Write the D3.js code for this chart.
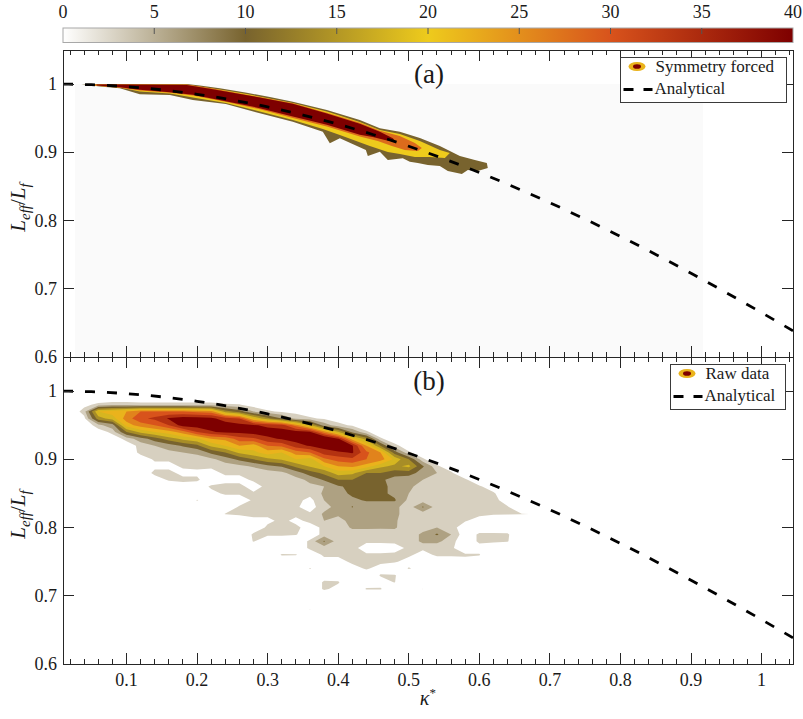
<!DOCTYPE html>
<html>
<head>
<meta charset="utf-8">
<title>Effective length ratio versus curvature</title>
<script src="https://cdn.jsdelivr.net/npm/d3@7/dist/d3.min.js"></script>
<style>
  html, body { margin: 0; padding: 0; background: #ffffff; }
  svg { display: block; }
  text { font-family: "Liberation Serif", "Times New Roman", serif; fill: #1a1a1a; }
</style>
</head>
<body>
<svg id="chart" width="803" height="719"></svg>
<script>
// ---------------- data ----------------
const colorbarTicks = [0, 5, 10, 15, 20, 25, 30, 35, 40];
const colormapStops = [0, 10, 20, 30, 40];
const colormapColors = ["#ffffff", "#78632e", "#eecb1c", "#d8531c", "#7e0000"];

const xTicks = [0.1, 0.2, 0.3, 0.4, 0.5, 0.6, 0.7, 0.8, 0.9, 1];
const yTicks = [0.6, 0.7, 0.8, 0.9, 1];

// analytical prediction of Leff/Lf against kappa*
const analyticKappa = [0.01, 0.05, 0.1, 0.15, 0.2, 0.25, 0.3, 0.35, 0.4, 0.45, 0.5, 0.55,
                       0.6, 0.65, 0.7, 0.75, 0.8, 0.85, 0.9, 0.95, 1.0, 1.0445];
const analyticRatio = [1.000, 0.9991, 0.9963, 0.9916, 0.9851, 0.9767, 0.9666, 0.9547, 0.9411, 0.9258, 0.9089, 0.8904,
                       0.8704, 0.8489, 0.8261, 0.8020, 0.7767, 0.7503, 0.7228, 0.6943, 0.6650, 0.6383];

// symmetry-forced histogram: extent of its grid and filled contour outlines [kappa*, Leff/Lf]
const symGridKappa = [0.027, 0.917];
const symGridRatio = [0.6, 1.0];
const symLevels = [10, 20, 28, 40];
const symContour10 = [[0.036,1.0],[0.0905,1.0],[0.1854,1.0],[0.2039,0.998],[0.2322,0.9938],[0.2705,0.9874],[0.3031,0.9811],
  [0.3357,0.9742],[0.3839,0.962],[0.4306,0.9474],[0.459,0.9352],[0.4873,0.9302],[0.5157,0.921],[0.544,0.9093],[0.5724,0.8946],
  [0.5936,0.8887],[0.6106,0.8843],[0.612,0.877],[0.5978,0.8726],[0.5837,0.8741],[0.5752,0.8682],[0.5553,0.8726],[0.544,0.88],
  [0.527,0.8814],[0.5128,0.8843],[0.5015,0.8862],[0.4915,0.8912],[0.4703,0.8887],[0.459,0.9009],[0.442,0.8946],[0.4392,0.9034],
  [0.4023,0.9206],[0.3881,0.9132],[0.3782,0.9302],[0.3357,0.9449],[0.2889,0.9572],[0.2407,0.9708],[0.194,0.9767],[0.1614,0.984],
  [0.1188,0.985],[0.0905,0.9938],[0.0622,0.9965]];
const symContour20 = [[0.0452,0.9994],[0.1854,0.999],[0.2322,0.9921],[0.2705,0.9855],[0.3357,0.9723],[0.3839,0.9598],[0.4306,0.9444],
  [0.459,0.9327],[0.4873,0.9269],[0.5157,0.9166],[0.544,0.9034],[0.5582,0.899],[0.5511,0.8917],[0.5298,0.8931],[0.5086,0.8931],
  [0.4873,0.8975],[0.4703,0.9005],[0.4448,0.9093],[0.4023,0.9254],[0.3782,0.9342],[0.3357,0.9474],[0.2889,0.9598],[0.2407,0.9723],
  [0.194,0.9804],[0.1614,0.9862],[0.1188,0.9892],[0.0905,0.995],[0.0622,0.9972],[0.0452,0.9987]];
const symContour28 = [[0.0522,0.9994],[0.1854,0.9994],[0.2223,0.9936],[0.2889,0.981],[0.3357,0.9718],[0.3839,0.958],[0.4306,0.9432],
  [0.459,0.9315],[0.4873,0.9239],[0.5086,0.9137],[0.5185,0.9063],[0.5128,0.902],[0.4944,0.9034],[0.476,0.9093],[0.4561,0.9166],
  [0.4306,0.9232],[0.3839,0.938],[0.3357,0.9505],[0.2889,0.963],[0.2421,0.9736],[0.194,0.9832],[0.1614,0.9872],[0.1188,0.9908],
  [0.0905,0.9946],[0.0551,0.9979]];
const symContour40 = [[0.0575,0.9993],[0.0905,0.9994],[0.1854,0.9987],[0.2223,0.9924],[0.2889,0.9805],[0.3357,0.9712],[0.3839,0.9568],
  [0.4306,0.942],[0.459,0.9302],[0.4774,0.9206],[0.4817,0.9151],[0.466,0.9181],[0.449,0.9225],[0.4306,0.9258],[0.3839,0.9405],
  [0.3357,0.9525],[0.2889,0.9648],[0.2421,0.9745],[0.194,0.9845],[0.1614,0.988],[0.1188,0.9918],[0.0905,0.9955],[0.0579,0.9978]];

// raw data: 2-D histogram counts on (kappa*, Leff/Lf) bins
const rawKappaBins = [0.02,0.04,0.06,0.08,0.10,0.12,0.14,0.16,0.18,0.20,0.22,0.24,0.26,0.28,0.30,0.32,0.34,
                      0.36,0.38,0.40,0.42,0.44,0.46,0.48,0.50,0.52,0.54,0.56,0.58,0.60,0.62,0.64,0.66];
const rawRatioBins = [1.00,0.99,0.98,0.97,0.96,0.95,0.94,0.93,0.92,0.91,0.90,0.89,0.88,0.87,0.86,0.85,0.84,0.83,
                      0.82,0.81,0.80,0.79,0.78,0.77,0.76,0.75,0.74,0.73,0.72,0.71,0.70,0.69,0.68,0.67,0.66];
const rawLevels = [3, 6, 10, 14, 18, 22, 26, 30, 34, 38];
const rawCounts = [
  [0,0,0,0,0,0,0,0,0,0,0,0,0,0,0,0,0,0,0,0,0,0,0,0,0,0,0,0,0,0,0,0,0],
  [0,0,0,0,0,1,1,1,1,1,1,0,0,0,0,0,0,0,0,0,0,0,0,0,0,0,0,0,0,0,0,0,0],
  [0,2,4,5,5,4,4,4,4,4,4,3.5,3.2,1.5,1,0.5,0,0,0,0,0,0,0,0,0,0,0,0,0,0,0,0,0],
  [0,4.5,22,24,26,30,30,30,30,29,28,16,12,6,3.5,2.5,2,1,0.5,0,0,0,0,0,0,0,0,0,0,0,0,0,0],
  [0,2,16,20,28,33,35,38.5,40,40,39,36,34,22,15,10,5,3.5,2.5,1.5,0.5,0,0,0,0,0,0,0,0,0,0,0,0],
  [0,0,5,8,24,28,30,34,40,40,40,40,39,38.5,37,36,28,19,8,4,2.5,1,0,0,0,0,0,0,0,0,0,0,0],
  [0,0,1,4,14,19,22,24,28,34,37.5,39,39,40,40,40,40,38.5,28,18.5,9,3.5,1,0,0,0,0,0,0,0,0,0,0],
  [0,0,0,1,4,8,12,16,19,21,26,27,32,33,37,38.5,40,40,44,38.5,24,16,3.5,1,0,0,0,0,0,0,0,0,0],
  [0,0,0,0,1,4,6,8,10.5,13,19,22,26,24,30,31,36,38.5,40,44,38.5,26,14,4,1,0,0,0,0,0,0,0,0],
  [0,0,0,0,0,4,4,5,6,7,11,14,19,21,24,22,28,30,36,37,38.5,31,26,12,3.5,1,0,0,0,0,0,0,0],
  [0,0,0,0,0,1,3.5,3.5,4,4,5,8,11,14,17,18.5,22,20,29,32,33,30,28,21,14,3.5,0.5,0,0,0,0,0,0],
  [0,0,0,0,0,0,2,2,3.5,3.5,3.5,4,5,6.5,9,10.5,15,18.5,22,26,27,24,19,17,19,10.5,3.5,1,0,0,0,0,0],
  [0,0,0,0,0,0,4,4,2,2.5,2,3.5,3.5,3.5,4,5,8,12,15,20,19,14,14,12,12,8,6,3.5,0,0,0,0,0],
  [0,0,0,0,0,0,1,3.5,4,3.5,1,2,2,3.5,3.5,4,4.5,7,10.5,14,14,11,11,8,7,6,5,5,3.5,0.5,0,0,0],
  [0,0,0,0,0,0,0,0,1,1,3.5,4,4,1.5,4,3.5,3.5,5,6,9.5,11,12,11,9,6.5,5,4.5,4,4,3.5,1,0,0],
  [0,0,0,0,0,0,0,0,0,0,2,3.5,3.5,3.5,4,4,3.5,4,6.5,8,11,12,11,9,6,4.5,4,3.5,3.5,4,3.5,0,0],
  [0,0,0,0,0,0,0,0,0,3.2,1,1,1,3.5,3.5,3.5,4,2,6,7,9,10.5,10.5,10.5,5,4,3.5,3.5,3.5,3.5,4,1.5,0],
  [0,0,0,0,0,0,0,0,0,0,0,0,3.5,4,4,4,3.5,1.5,5,7,10.2,7,7,7,4,10.5,4,3.5,3.5,3.5,3.5,3.3,0],
  [0,0,0,0,0,0,0,0,0,0,0,3.2,3.5,4,3.5,3.5,3.5,3.5,6.5,6.5,7,7,7,6.5,5,4,3.5,3.5,3.5,3.5,3.3,3.2,3.1],
  [0,0,0,0,0,0,0,0,0,0,0,0,1,2,2.5,3.5,2.5,3.5,6,5,7,7,6.5,6.5,4,3.5,3.5,3.5,3.2,2,1,1,0],
  [0,0,0,0,0,0,0,0,0,0,0,0,0,1,3.5,4,3.5,2,3.5,4,6.5,6.5,6.5,6.5,3.5,4,6,4,1.5,1,1,1,0],
  [0,0,0,0,0,0,0,0,0,0,0,0,0,3.5,3.5,3.5,3.2,1,4,3.5,4,4,3.5,4,3.5,7,10.5,6,1,3.5,3.5,3.4,0],
  [0,0,0,0,0,0,0,0,0,0,0,0,0,3.2,1,1,1,3.5,10.5,4,3.5,3.5,3.5,3.5,3.5,7,7,4,1,3.5,3.5,3.2,0],
  [0,0,0,0,0,0,0,0,0,0,0,0,0,0,0,1,1,3.5,4,3.5,4,1.5,1.5,2,3.5,3.5,3.5,3.5,1,2,1,1,0],
  [0,0,0,0,0,0,0,0,0,0,0,0,0,0,0,3.3,3.2,1,3.5,3.5,3.5,3.5,3.5,3.5,3.5,2,3.5,3.5,3.4,3.2,0,0,0],
  [0,0,0,0,0,0,0,0,0,0,0,0,0,0,0,0,0,0,2,2,3.5,3.5,3.5,3.3,2,1,1,1,2,1,0,0,0],
  [0,0,0,0,0,0,0,0,0,0,0,0,0,0,0,0,0,3.2,1,1,2,3.3,2,1,3.2,2,0,0,0,0,0,0,0],
  [0,0,0,0,0,0,0,0,0,0,0,0,0,0,0,0,0,0,1,1,1,1,3.2,3.2,1,1,0,0,0,0,0,0,0],
  [0,0,0,0,0,0,0,0,0,0,0,0,0,0,0,0,0,0,3.5,3.3,0,1,2,3.1,0,1,0,0,0,0,0,0,0],
  [0,0,0,0,0,0,0,0,0,0,0,0,0,0,0,0,0,0,3.5,2,0,3.3,3.2,1,0,3.1,0,0,0,0,0,0,0],
  [0,0,0,0,0,0,0,0,0,0,0,0,0,0,0,0,0,0,0,0,0,0,0,0,0,0,0,0,0,0,0,0,0],
  [0,0,0,0,0,0,0,0,0,0,0,0,0,0,0,0,0,0,0,0,0,0,0,0,0,0,0,0,0,0,0,0,0],
  [0,0,0,0,0,0,0,0,0,0,0,0,0,0,0,0,0,3.1,0,0,0,0,0,0,0,0,0,0,0,0,0,0,0],
  [0,0,0,0,0,0,0,0,0,0,0,0,0,0,0,0,0,0,0,0,0,0,0,0,0,0,0,0,0,0,0,0,0],
  [0,0,0,0,0,0,0,0,0,0,0,0,0,0,0,0,0,0,0,0,0,0,0,0,0,0,0,0,0,0,0,0,0]
];

// ---------------- layout ----------------
const svg = d3.select("#chart");
const plotLeft = 63, plotRight = 793;
const panels = [
  { key: "a", top: 50, bottom: 357 },
  { key: "b", top: 357, bottom: 664 }
];
const ratioDomain = [0.6, 1.05];
const x = d3.scaleLinear().domain([0.01, 1.0445]).range([plotLeft, plotRight]);
panels.forEach(p => { p.y = d3.scaleLinear().domain(ratioDomain).range([p.bottom, p.top]); });
const cmap = d3.scaleLinear().domain(colormapStops).range(colormapColors).interpolate(d3.interpolateRgb);
const axisColor = "#262626";
const defs = svg.append("defs");

panels.forEach(p => {
  defs.append("clipPath").attr("id", "clip-" + p.key)
    .append("rect").attr("x", plotLeft).attr("y", p.top)
    .attr("width", plotRight - plotLeft).attr("height", p.bottom - p.top);
});

// ---------------- colour bar ----------------
const cbScale = d3.scaleLinear().domain([0, 40]).range([plotLeft, plotRight]);
const grad = defs.append("linearGradient").attr("id", "cbar-grad")
  .attr("x1", "0%").attr("x2", "100%").attr("y1", "0%").attr("y2", "0%");
colormapStops.forEach((v, i) => {
  grad.append("stop").attr("offset", (v / 40 * 100) + "%").attr("stop-color", colormapColors[i]);
});
const cbTop = 28, cbHeight = 14.5;
svg.append("rect").attr("x", cbScale(0)).attr("y", cbTop)
  .attr("width", cbScale(40) - cbScale(0)).attr("height", cbHeight)
  .attr("fill", "url(#cbar-grad)").attr("stroke", "#a8a8a8").attr("stroke-width", 1);
colorbarTicks.forEach(v => {
  if (v > 0 && v < 40) {
    svg.append("line").attr("x1", cbScale(v)).attr("x2", cbScale(v))
      .attr("y1", cbTop).attr("y2", cbTop + 6).attr("stroke", "#555").attr("stroke-width", 1);
  }
  svg.append("text").attr("x", cbScale(v)).attr("y", 18).attr("text-anchor", "middle")
    .attr("font-size", 18).text(v);
});

// ---------------- panel (a): symmetry forced ----------------
const pa = panels[0];
const gA = svg.append("g").attr("clip-path", "url(#clip-a)");
gA.append("rect")
  .attr("x", x(symGridKappa[0])).attr("y", pa.y(symGridRatio[1]))
  .attr("width", x(symGridKappa[1]) - x(symGridKappa[0]))
  .attr("height", pa.y(symGridRatio[0]) - pa.y(symGridRatio[1]))
  .attr("fill", "#fafafa");
const symShapes = [symContour10, symContour20, symContour28, symContour40];
const polyLineA = d3.line().x(d => x(d[0])).y(d => pa.y(d[1])).curve(d3.curveLinearClosed);
symShapes.forEach((pts, i) => {
  gA.append("path").attr("d", polyLineA(pts)).attr("fill", cmap(symLevels[i]));
});

// ---------------- panel (b): raw data ----------------
const pb = panels[1];
const gB = svg.append("g").attr("clip-path", "url(#clip-b)");
const nK = rawKappaBins.length, nR = rawRatioBins.length;
const dK = rawKappaBins[1] - rawKappaBins[0];
const dR = rawRatioBins[1] - rawRatioBins[0];
const gridToKappa = g => rawKappaBins[0] + (g - 0.5) * dK;
const gridToRatio = g => rawRatioBins[0] + (g - 0.5) * dR;
const rawContours = d3.contours().size([nK, nR]).thresholds(rawLevels)(rawCounts.flat());
const topLevel = rawLevels[rawLevels.length - 1];
rawContours.forEach(c => {
  const d = c.coordinates.map(poly => poly.map(ring =>
    "M" + ring.map(pt => x(gridToKappa(pt[0])).toFixed(2) + "," + pb.y(gridToRatio(pt[1])).toFixed(2)).join("L") + "Z"
  ).join("")).join("");
  if (!d) return;
  gB.append("path").attr("d", d).attr("fill-rule", "evenodd")
    .attr("fill", cmap(c.value >= topLevel ? 40 : c.value));
});

// ---------------- analytical curve (both panels) ----------------
const analyticPts = analyticKappa.map((k, i) => [k, analyticRatio[i]]);
[[gA, pa], [gB, pb]].forEach(([g, p]) => {
  const line = d3.line().x(d => x(d[0])).y(d => p.y(d[1])).curve(d3.curveMonotoneX);
  g.append("path").attr("d", line(analyticPts)).attr("fill", "none")
    .attr("stroke", "#000").attr("stroke-width", 2.8).attr("stroke-dasharray", "10 12");
});

// ---------------- axes, frames, tick labels ----------------
const minorX = d3.range(0.02, 1.045, 0.02).filter(v => !xTicks.some(t => Math.abs(t - v) < 1e-6));
const majorLen = 11, minorLen = 5;
panels.forEach(p => {
  const g = svg.append("g").attr("stroke", axisColor).attr("stroke-width", 1).attr("shape-rendering", "crispEdges");
  xTicks.forEach(v => {
    g.append("line").attr("x1", x(v)).attr("x2", x(v)).attr("y1", p.bottom).attr("y2", p.bottom - majorLen);
    g.append("line").attr("x1", x(v)).attr("x2", x(v)).attr("y1", p.top).attr("y2", p.top + majorLen);
  });
  minorX.forEach(v => {
    g.append("line").attr("x1", x(v)).attr("x2", x(v)).attr("y1", p.bottom).attr("y2", p.bottom - minorLen);
    g.append("line").attr("x1", x(v)).attr("x2", x(v)).attr("y1", p.top).attr("y2", p.top + minorLen);
  });
  yTicks.forEach(v => {
    g.append("line").attr("x1", plotLeft).attr("x2", plotLeft + majorLen).attr("y1", p.y(v)).attr("y2", p.y(v));
    g.append("line").attr("x1", plotRight).attr("x2", plotRight - majorLen).attr("y1", p.y(v)).attr("y2", p.y(v));
  });
  g.append("rect").attr("x", plotLeft).attr("y", p.top)
    .attr("width", plotRight - plotLeft).attr("height", p.bottom - p.top).attr("fill", "none");

  yTicks.forEach(v => {
    svg.append("text").attr("x", plotLeft - 6).attr("y", p.y(v)).attr("dy", "0.34em")
      .attr("text-anchor", "end").attr("font-size", 18).text(String(v));
  });

  // rotated axis title
  const yl = svg.append("text").attr("font-size", 21).attr("text-anchor", "middle")
    .attr("transform", `translate(25,${(p.top + p.bottom) / 2 + 4}) rotate(-90)`);
  yl.append("tspan").attr("font-style", "italic").text("L");
  yl.append("tspan").attr("font-style", "italic").attr("font-size", 15).attr("dy", 5).text("eff");
  yl.append("tspan").attr("dy", -5).text("/");
  yl.append("tspan").attr("font-style", "italic").text("L");
  yl.append("tspan").attr("font-style", "italic").attr("font-size", 15).attr("dy", 5).text("f");
});

// x tick labels under the lower panel
xTicks.forEach(v => {
  svg.append("text").attr("x", x(v)).attr("y", 686).attr("text-anchor", "middle")
    .attr("font-size", 18).text(String(v));
});
const xl = svg.append("text").attr("x", x(0.527)).attr("y", 705).attr("text-anchor", "middle").attr("font-size", 20);
xl.append("tspan").attr("font-style", "italic").text("κ");
xl.append("tspan").attr("font-size", 13).attr("dy", -8).text("*");

// panel tags
svg.append("text").attr("x", 429).attr("y", pa.top + 33).attr("text-anchor", "middle").attr("font-size", 27).text("(a)");
svg.append("text").attr("x", 429).attr("y", pb.top + 33).attr("text-anchor", "middle").attr("font-size", 27).text("(b)");

// ---------------- legends ----------------
function legend(p, boxLeft, boxWidth, label) {
  const top = p.top + 7.5, g = svg.append("g");
  g.append("rect").attr("x", boxLeft).attr("y", top).attr("width", boxWidth).attr("height", 45)
    .attr("fill", "#fff").attr("stroke", "#3a3a3a").attr("stroke-width", 1).attr("shape-rendering", "crispEdges");
  const mx = boxLeft + 16.5, row1 = top + 14, row2 = top + 36.5;
  g.append("ellipse").attr("cx", mx).attr("cy", row1 - 5).attr("rx", 8.5).attr("ry", 4.6).attr("fill", cmap(22));
  g.append("ellipse").attr("cx", mx).attr("cy", row1 - 5).attr("rx", 4).attr("ry", 2.3).attr("fill", cmap(40));
  g.append("text").attr("x", boxLeft + 35).attr("y", row1).attr("font-size", 17).text(label);
  g.append("line").attr("x1", boxLeft + 3).attr("x2", boxLeft + 32).attr("y1", row2 - 4.5).attr("y2", row2 - 4.5)
    .attr("stroke", "#000").attr("stroke-width", 2.8).attr("stroke-dasharray", "10 10");
  g.append("text").attr("x", boxLeft + 34).attr("y", row2).attr("font-size", 17).text("Analytical");
}
legend(pa, 620.5, 165.5, "Symmetry forced");
legend(pb, 670.5, 115, "Raw data");
</script>
</body>
</html>
